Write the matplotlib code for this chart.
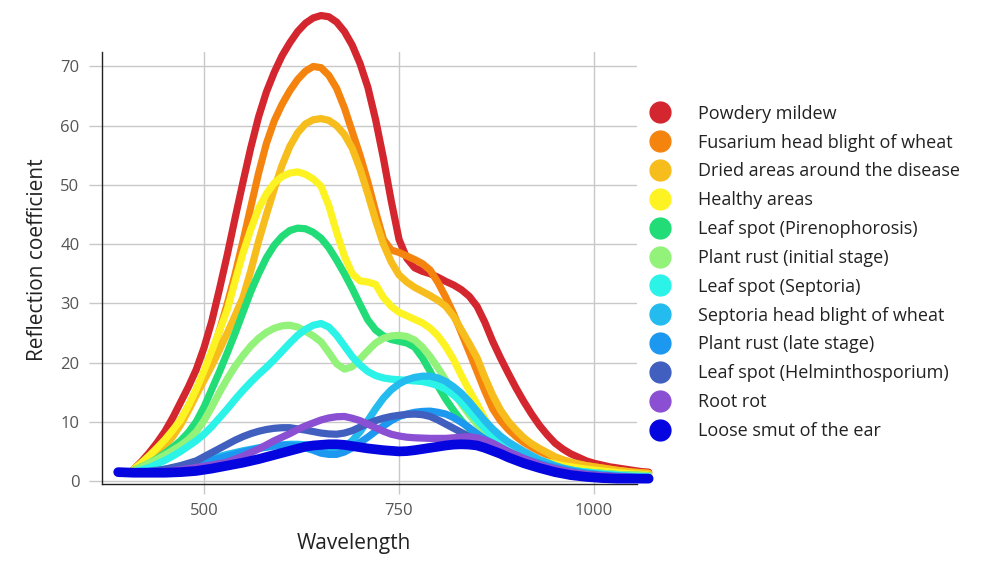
import numpy as np
import matplotlib
matplotlib.use("Agg")
import matplotlib.pyplot as plt
from matplotlib.lines import Line2D

plt.rcParams['font.family'] = ['Open Sans', 'DejaVu Sans']

nan = np.nan

# wavelength grid (nm), 390 ... 1070 every 10 nm
wavelength = [390, 400, 410, 420, 430, 440, 450, 460, 470, 480,
              490, 500, 510, 520, 530, 540, 550, 560, 570, 580,
              590, 600, 610, 620, 630, 640, 650, 660, 670, 680,
              690, 700, 710, 720, 730, 740, 750, 760, 770, 780,
              790, 800, 810, 820, 830, 840, 850, 860, 870, 880,
              890, 900, 910, 920, 930, 940, 950, 960, 970, 980,
              990, 1000, 1010, 1020, 1030, 1040, 1050, 1060, 1070]

# reflection coefficients (one row = 100 nm)
powdery_mildew = [nan, nan, 2.0, 3.3, 4.8, 6.5, 8.4, 10.7, 13.3, 15.9,
                  18.8, 22.5, 27.0, 32.5, 38.3, 44.5, 50.5, 56.3, 61.5, 65.7,
                  69.0, 71.8, 74.0, 75.9, 77.3, 78.2, 78.6, 78.4, 77.5, 75.9,
                  73.6, 70.5, 66.5, 61.0, 54.5, 47.3, 40.8, 37.6, 36.0, 35.4,
                  35.0, 34.4, 33.7, 33.1, 32.3, 31.2, 29.5, 26.8, 23.6, 20.8,
                  18.2, 15.7, 13.4, 11.3, 9.4, 7.8, 6.4, 5.4, 4.6, 4.0,
                  3.4, 3.0, 2.7, 2.4, 2.2, 2.0, 1.8, 1.6, 1.5]
fusarium = [nan, nan, 2.0, 2.9, 4.0, 5.3, 6.8, 8.5, 10.3, 12.6,
            15.3, 18.3, 21.3, 25.5, 30.0, 35.0, 40.5, 46.3, 52.0, 57.0,
            60.8, 63.6, 65.9, 67.8, 69.2, 70.0, 69.8, 68.5, 66.3, 63.0,
            59.0, 55.0, 50.5, 45.5, 40.8, 39.0, 38.6, 38.0, 37.4, 36.7,
            35.6, 33.5, 31.0, 28.2, 25.0, 21.8, 18.5, 15.2, 12.2, 10.2,
            8.7, 7.5, 6.5, 5.7, 5.0, 4.4, 3.9, 3.5, 3.1, 2.8,
            2.6, 2.4, 2.2, 2.0, 1.8, 1.65, 1.5, 1.4, 1.3]
dried_areas = [nan, nan, 2.0, 2.7, 3.6, 4.6, 5.9, 7.5, 9.5, 11.9,
               14.5, 17.0, 19.5, 22.2, 25.0, 28.0, 31.0, 35.5, 40.5, 45.0,
               49.3, 53.3, 56.5, 58.8, 60.3, 61.0, 61.2, 60.9, 60.0, 58.5,
               56.2, 52.7, 48.5, 44.0, 40.0, 37.0, 34.8, 33.6, 32.7, 32.0,
               31.3, 30.5, 29.5, 27.8, 25.5, 23.2, 20.8, 17.5, 14.5, 12.0,
               10.1, 8.6, 7.3, 6.3, 5.5, 4.8, 4.1, 3.6, 3.2, 2.9,
               2.6, 2.4, 2.2, 2.0, 1.8, 1.65, 1.5, 1.4, 1.3]
healthy = [nan, nan, 2.0, 3.1, 4.3, 5.6, 7.0, 8.6, 10.3, 12.7,
           15.5, 18.6, 22.0, 25.4, 29.0, 33.8, 38.5, 42.5, 46.0, 48.5,
           50.3, 51.4, 52.0, 52.2, 51.8, 51.0, 49.8, 46.5, 42.0, 38.0,
           35.0, 33.8, 33.6, 33.2, 31.0, 29.5, 28.5, 27.9, 27.3, 26.7,
           25.8, 24.5, 22.7, 20.5, 17.8, 15.3, 13.0, 10.5, 8.3, 7.2,
           6.2, 5.4, 4.7, 4.1, 3.5, 3.2, 2.9, 2.6, 2.4, 2.2,
           2.0, 1.85, 1.7, 1.55, 1.4, 1.3, 1.2, 1.1, 1.0]
pirenophorosis = [nan, nan, 1.8, 2.4, 3.0, 3.8, 4.7, 5.7, 6.8, 8.2,
                  10.0, 12.5, 15.5, 18.5, 21.7, 25.0, 28.5, 32.0, 35.0, 37.7,
                  39.8, 41.3, 42.3, 42.7, 42.6, 42.0, 41.0, 39.4, 37.3, 35.0,
                  32.5, 29.8, 27.2, 25.5, 24.5, 23.9, 23.6, 23.3, 22.6, 20.8,
                  18.5, 16.0, 13.8, 11.9, 10.2, 8.8, 7.6, 6.5, 5.5, 4.8,
                  4.2, 3.6, 3.1, 2.8, 2.5, 2.3, 2.1, 1.95, 1.8, 1.65,
                  1.5, 1.4, 1.3, 1.2, 1.1, 1.05, 1.0, 0.95, 0.9]
rust_initial = [nan, nan, 1.8, 2.4, 3.0, 3.7, 4.4, 5.2, 6.0, 7.0,
                8.3, 10.2, 12.5, 15.0, 17.3, 19.4, 21.2, 22.8, 24.1, 25.1,
                25.8, 26.2, 26.3, 26.0, 25.3, 24.5, 23.5, 21.7, 19.8, 18.9,
                19.3, 20.6, 22.0, 23.3, 24.1, 24.5, 24.6, 24.4, 23.8, 22.6,
                21.0, 19.1, 17.0, 15.0, 13.0, 11.2, 9.6, 8.1, 6.8, 5.6,
                4.6, 3.9, 3.3, 2.9, 2.6, 2.3, 2.1, 1.95, 1.8, 1.65,
                1.5, 1.4, 1.3, 1.2, 1.1, 1.05, 1.0, 0.95, 0.9]
septoria_leaf = [nan, nan, 1.5, 1.9, 2.3, 2.9, 3.5, 4.2, 5.0, 5.9,
                 6.8, 7.9, 9.2, 10.7, 12.2, 13.8, 15.3, 16.7, 18.0, 19.2,
                 20.5, 21.9, 23.3, 24.6, 25.6, 26.3, 26.6, 26.0, 24.6, 22.8,
                 21.0, 19.6, 18.5, 17.8, 17.4, 17.2, 17.1, 17.0, 16.9, 16.8,
                 16.5, 16.1, 15.5, 14.5, 13.3, 11.8, 10.3, 8.9, 7.5, 6.4,
                 5.4, 4.6, 3.9, 3.4, 2.9, 2.6, 2.3, 2.0, 1.8, 1.65,
                 1.5, 1.35, 1.2, 1.1, 1.0, 0.9, 0.8, 0.75, 0.7]
septoria_head = [nan, nan, 1.5, 1.6, 1.7, 1.85, 2.0, 2.2, 2.5, 2.8,
                 3.1, 3.45, 3.8, 4.15, 4.5, 4.8, 5.1, 5.35, 5.6, 5.8,
                 6.0, 6.1, 6.2, 6.2, 6.1, 6.0, 5.8, 5.6, 5.4, 5.8,
                 6.8, 8.3, 10.2, 12.2, 14.0, 15.4, 16.4, 17.1, 17.5, 17.7,
                 17.7, 17.4, 16.8, 15.9, 14.8, 13.4, 11.8, 10.2, 8.8, 7.6,
                 6.6, 5.8, 5.0, 4.3, 3.6, 3.1, 2.6, 2.2, 1.9, 1.6,
                 1.4, 1.25, 1.1, 1.0, 0.9, 0.8, 0.7, 0.65, 0.6]
rust_late = [nan, nan, 1.5, 1.55, 1.6, 1.75, 1.9, 2.1, 2.3, 2.6,
             2.9, 3.2, 3.5, 3.85, 4.2, 4.55, 4.9, 5.2, 5.5, 5.7,
             5.9, 6.0, 6.0, 5.9, 5.6, 5.2, 4.7, 4.5, 4.5, 4.9,
             5.6, 6.5, 7.4, 8.4, 9.3, 10.2, 10.9, 11.3, 11.6, 11.75,
             11.8, 11.6, 11.3, 10.7, 9.9, 9.0, 8.0, 7.1, 6.3, 5.6,
             4.9, 4.3, 3.8, 3.4, 3.0, 2.6, 2.3, 2.0, 1.7, 1.5,
             1.3, 1.15, 1.0, 0.9, 0.8, 0.7, 0.6, 0.55, 0.5]
helminthosporium = [nan, nan, 1.5, 1.55, 1.6, 1.75, 2.0, 2.3, 2.6, 3.0,
                    3.4, 4.1, 4.8, 5.5, 6.2, 6.9, 7.5, 8.0, 8.4, 8.7,
                    8.9, 9.0, 9.0, 8.8, 8.6, 8.35, 8.1, 7.95, 7.9, 8.1,
                    8.5, 9.1, 9.7, 10.2, 10.6, 10.9, 11.1, 11.25, 11.3, 11.2,
                    10.9, 10.3, 9.6, 8.9, 8.2, 7.5, 6.8, 6.0, 5.3, 4.6,
                    4.0, 3.5, 3.0, 2.6, 2.3, 2.0, 1.8, 1.6, 1.4, 1.25,
                    1.1, 1.0, 0.9, 0.8, 0.7, 0.65, 0.6, 0.55, 0.5]
root_rot = [nan, nan, 1.5, 1.5, 1.5, 1.55, 1.6, 1.75, 1.9, 2.1,
            2.3, 2.5, 2.7, 2.95, 3.2, 3.7, 4.2, 4.8, 5.4, 6.1,
            6.8, 7.4, 8.0, 8.7, 9.3, 9.8, 10.3, 10.65, 10.85, 10.9,
            10.6, 10.2, 9.6, 9.0, 8.4, 7.9, 7.6, 7.4, 7.3, 7.25,
            7.2, 7.2, 7.2, 7.3, 7.4, 7.45, 7.3, 6.9, 6.4, 5.7,
            5.0, 4.4, 3.8, 3.3, 2.8, 2.4, 2.1, 1.8, 1.5, 1.3,
            1.1, 1.0, 0.9, 0.8, 0.7, 0.65, 0.6, 0.55, 0.5]
loose_smut = [1.5, 1.45, 1.4, 1.4, 1.4, 1.4, 1.4, 1.45, 1.5, 1.6,
              1.7, 1.9, 2.1, 2.35, 2.6, 2.85, 3.1, 3.4, 3.7, 4.05,
              4.4, 4.75, 5.1, 5.45, 5.8, 6.0, 6.1, 6.2, 6.2, 6.1,
              5.9, 5.7, 5.5, 5.35, 5.2, 5.1, 5.0, 5.05, 5.2, 5.4,
              5.6, 5.8, 6.0, 6.15, 6.2, 6.15, 6.0, 5.6, 5.1, 4.6,
              4.0, 3.5, 3.0, 2.6, 2.2, 1.85, 1.5, 1.25, 1.0, 0.85,
              0.7, 0.6, 0.5, 0.45, 0.4, 0.4, 0.4, 0.4, 0.4]

labels = ['Powdery mildew', 'Fusarium head blight of wheat',
          'Dried areas around the disease', 'Healthy areas',
          'Leaf spot (Pirenophorosis)', 'Plant rust (initial stage)',
          'Leaf spot (Septoria)', 'Septoria head blight of wheat',
          'Plant rust (late stage)', 'Leaf spot (Helminthosporium)',
          'Root rot', 'Loose smut of the ear']
series = [powdery_mildew, fusarium, dried_areas, healthy, pirenophorosis,
          rust_initial, septoria_leaf, septoria_head, rust_late,
          helminthosporium, root_rot, loose_smut]
colors = ['#d3262e', '#f5840f', '#f6bd1c', '#fdf322', '#22dc78', '#92f27a',
          '#2cf3e8', '#24bbee', '#1c98f0', '#405fbf', '#8a4fd2', '#0505e0']

fig = plt.figure(figsize=(9.86, 5.66), dpi=100)
ax = fig.add_axes([0.1031, 0.1443, 0.5429, 0.7644])

for vals, c, lab in zip(series, colors, labels):
    lw = 7.0 if lab == 'Loose smut of the ear' else 5.2
    ax.plot(wavelength, vals, color=c, lw=lw, solid_capstyle='round',
            solid_joinstyle='round', clip_on=False, zorder=3)

ax.set_xlim(368.8, 1055)
ax.set_ylim(-0.56, 72.5)
ax.set_xticks([500, 750, 1000])
ax.set_yticks(range(0, 80, 10))
ax.grid(True, color='#c8c8c8', lw=1.0)
ax.set_axisbelow(True)
for s in ['top', 'right']:
    ax.spines[s].set_visible(False)
for s in ['left', 'bottom']:
    ax.spines[s].set_color('#222222')
    ax.spines[s].set_linewidth(1.0)
ax.tick_params(axis='y', length=9.5, width=1.0, color='#c8c8c8', pad=6.5,
               labelsize=12, labelcolor='#555555')
ax.tick_params(axis='x', length=7.5, width=1.0, color='#c8c8c8', pad=6,
               labelsize=12, labelcolor='#555555')

ax.set_xlabel('Wavelength', fontsize=15, color='#222222')
ax.set_ylabel('Reflection coefficient', fontsize=15, color='#222222')
ax.xaxis.set_label_coords(0.472, -0.112)
ax.yaxis.set_label_coords(-0.100, 0.52)

handles = [Line2D([], [], marker='o', linestyle='none', markersize=15,
                  markerfacecolor=c, markeredgecolor=c) for c in colors]
fig.legend(handles, labels, loc='upper left',
           bbox_to_anchor=(649 / 986, 1 - 104.7 / 566), frameon=False,
           fontsize=13, handlelength=1.2, handletextpad=1.5,
           labelspacing=0.60, borderpad=0, borderaxespad=0,
           labelcolor='#222222')

fig.savefig('out.png', dpi=100)
